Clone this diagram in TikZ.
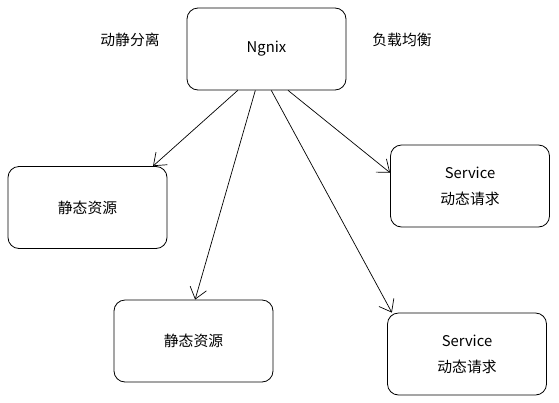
\documentclass[tikz,border=0pt]{standalone}
\usepackage{fontspec}
\setmainfont{Noto Sans CJK SC}
\usetikzlibrary{calc,arrows.meta}

\begin{document}
\begin{tikzpicture}[x=1pt,y=-1pt,
	box/.style={draw,line width=0.8pt,rounded corners=11pt,minimum width=159pt,minimum height=82pt,align=center,font=\fontsize{14.8}{26}\selectfont},
	tag/.style={font=\fontsize{14.8}{16}\selectfont},
	link/.style={line width=0.7pt,-{Straight Barb[length=11pt,width=17pt,line width=0.7pt]}}]
				\useasboundingbox (0,0) rectangle (559,402);
				\node[box] (ngnix) at (266.5,49) {Ngnix};
				\node[box] (lstatic) at (87.5,207.5) {静态资源};
				\node[box] (bstatic) at (193.5,341) {静态资源};
				\node[box] (tservice) at (470,186) {Service\\动态请求};
				\node[box] (bservice) at (467,354) {Service\\动态请求};
				\node[tag] (split) at (130,40) {动静分离};
				\node[tag] (balance) at (402,40) {负载均衡};
				\draw[link] ($(ngnix.south west)!0.32!(ngnix.south east)$) -- ($(lstatic.north west)!0.91!(lstatic.north east)$);
				\draw[link] ($(ngnix.south west)!0.43!(ngnix.south east)$) -- ($(bstatic.north west)!0.51!(bstatic.north east)$);
				\draw[link] ($(ngnix.south west)!0.53!(ngnix.south east)$) -- ($(bservice.north west)!0.03!(bservice.north east)$);
				\draw[link] ($(ngnix.south west)!0.635!(ngnix.south east)$) -- ($(tservice.north west)!0.34!(tservice.south west)$);
			\end{tikzpicture}
\end{document}
